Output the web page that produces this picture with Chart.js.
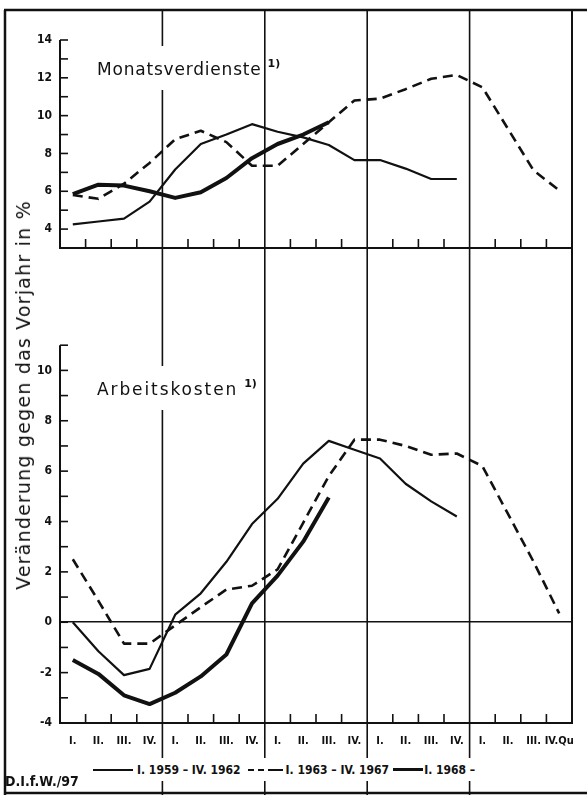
<!DOCTYPE html>
<html lang="de">
<head>
<meta charset="utf-8">
<title>Monatsverdienste und Arbeitskosten</title>
<script src="https://cdn.jsdelivr.net/npm/chart.js@4.4.1/dist/chart.umd.min.js"></script>
<style>
  html, body { margin: 0; padding: 0; background: #fff; }
  #fig { position: relative; width: 587px; height: 795px; overflow: hidden; background: #fff;
         font-family: 'DejaVu Sans', sans-serif; color: #111; }
  #fig canvas { position: absolute; left: 0; }
  #c-top { top: 0; }
  #c-bot { top: 330px; }
  .panel-title { position: absolute; font-size: 17px; line-height: 22px; white-space: nowrap; }
  .panel-title .w { display: inline-block; background: #fff; padding: 12px 2px 10px 3px; }
  .panel-title sup { font-size: 11px; font-weight: bold; line-height: 0; vertical-align: 8px; margin-left: 4px;
                     letter-spacing: 0; }
  #t-mv { left: 94px; top: 46px; letter-spacing: 0.8px; }
  #t-ak { left: 94px; top: 366px; letter-spacing: 1.9px; }
  #ytitle { position: absolute; left: 23px; top: 395px; font-size: 19px; letter-spacing: 1.2px;
            white-space: nowrap; transform: translate(-50%, -50%) rotate(-90deg); }
  #legend { position: absolute; left: 90px; top: 758px; height: 23px; padding: 0 3px; background: #fff;
            display: flex; align-items: center; font: bold 12px 'DejaVu Sans Condensed', 'DejaVu Sans', sans-serif;
            white-space: nowrap; }
  #legend .ln { display: inline-block; height: 0; border-top: 2px solid #111; width: 40px; margin-right: 4px; }
  #legend .ln.thick { border-top-width: 3.5px; width: 30px; margin-left: 4px; margin-right: 1px; }
  #legend .dash { display: inline-flex; align-items: center; margin: 0 3px 0 7px; }
  #legend .dash i { display: inline-block; width: 6px; border-top: 2.5px solid #111; margin-right: 4px; }
  #legend .dash b { display: inline-block; width: 15px; border-top: 2.5px solid #111; }
  #note { position: absolute; left: 5px; top: 773px; font: bold 14px 'DejaVu Sans Condensed', 'DejaVu Sans', sans-serif; }
</style>
</head>
<body>
<div id="fig">
  <canvas id="c-top" width="587" height="330"></canvas>
  <canvas id="c-bot" width="587" height="465"></canvas>
  <div class="panel-title" id="t-mv"><span class="w">Monatsverdienste</span><sup>1)</sup></div>
  <div class="panel-title" id="t-ak"><span class="w">Arbeitskosten</span><sup>1)</sup></div>
  <div id="ytitle">Veränderung gegen das Vorjahr in %</div>
  <div id="legend">
    <span class="ln"></span><span>I. 1959 – IV. 1962</span>
    <span class="dash"><i></i><i></i><b></b></span><span>I. 1963 – IV. 1967</span>
    <span class="ln thick"></span><span>I. 1968 –</span>
  </div>
  <div id="note">D.I.f.W./97</div>
</div>
<script>
(function () {
  var INK = '#111';
  var TICK_FONT = { family: "'DejaVu Sans Condensed', 'DejaVu Sans', sans-serif", size: 12, weight: 'bold' };
  var XTICK_FONT = { family: "'DejaVu Sans Condensed', 'DejaVu Sans', sans-serif", size: 11, weight: 'bold' };

  // quarters on the x axis (5 years)
  var QUARTER_LABELS = [
    'I.', 'II.', 'III.', 'IV.', 'I.', 'II.', 'III.', 'IV.', 'I.', 'II.', 'III.', 'IV.',
    'I.', 'II.', 'III.', 'IV.', 'I.', 'II.', 'III.', 'IV.Qu'
  ];
  var SERIES_LABELS = ['I. 1959 – IV. 1962', 'I. 1963 – IV. 1967', 'I. 1968 –'];

  // Monatsverdienste, % gegen Vorjahr
  var MV_1959 = [4.25, 4.4, 4.55, 5.45, 7.15, 8.5, 9.0, 9.55, 9.15, 8.85, 8.45, 7.65, 7.65, 7.2, 6.65, 6.65];
  var MV_1963 = [5.8, 5.6, 6.4, 7.5, 8.75, 9.2, 8.6, 7.35, 7.35, 8.5, 9.65, 10.8, 10.9, 11.4, 11.95, 12.15,
                 11.5, 9.3, 7.1, 6.05];
  var MV_1968 = [5.85, 6.35, 6.3, 6.0, 5.65, 5.95, 6.7, 7.75, 8.5, 9.0, 9.65];

  // Arbeitskosten, % gegen Vorjahr
  var AK_1959 = [0, -1.15, -2.1, -1.85, 0.3, 1.15, 2.4, 3.9, 4.9, 6.3, 7.2, 6.85, 6.5, 5.5, 4.8, 4.2];
  var AK_1963 = [2.5, 0.85, -0.85, -0.85, -0.12, 0.6, 1.3, 1.45, 2.1, 3.95, 5.8, 7.25, 7.25, 7.0, 6.65, 6.7,
                 6.2, 4.3, 2.4, 0.35];
  var AK_1968 = [-1.5, -2.05, -2.9, -3.25, -2.8, -2.15, -1.28, 0.75, 1.85, 3.2, 4.95];

  function datasets(thin, dashed, thick) {
    return [
      { label: SERIES_LABELS[0], data: thin, borderColor: INK, borderWidth: 2.2 },
      { label: SERIES_LABELS[1], data: dashed, borderColor: INK, borderWidth: 2.6, borderDash: [10, 6] },
      { label: SERIES_LABELS[2], data: thick, borderColor: INK, borderWidth: 4 }
    ];
  }

  function seg(ctx, x1, y1, x2, y2) {
    ctx.beginPath();
    ctx.moveTo(x1, y1);
    ctx.lineTo(x2, y2);
    ctx.stroke();
  }

  /** frame, year lines, axis lines and inward ticks (drawn from the chart's scales) */
  function decor(isTop) {
    return {
      id: 'decor',
      beforeDatasetsDraw: function (chart) {
        var ctx = chart.ctx, a = chart.chartArea, ys = chart.scales.y;
        var W = chart.width, H = chart.height;
        var n = QUARTER_LABELS.length;
        var band = (a.right - a.left) / n;
        var y0 = isTop ? 10 : 0;
        var i, x, v, y;
        ctx.save();
        ctx.strokeStyle = INK;
        // outer frame
        ctx.lineWidth = 2.5;
        seg(ctx, 5, y0, 5, H);
        if (isTop) seg(ctx, 4, 10, W, 10);
        else seg(ctx, 4, H - 2, W, H - 2);
        ctx.lineWidth = 2;
        seg(ctx, a.right, y0, a.right, isTop ? H : a.bottom + 1);
        // year separators
        ctx.lineWidth = 1.6;
        for (i = 4; i < n; i += 4) {
          x = a.left + i * band;
          seg(ctx, x, y0, x, H);
        }
        // y axis + bottom axis
        ctx.lineWidth = 2;
        seg(ctx, a.left, a.top, a.left, a.bottom + 1);
        seg(ctx, a.left - 1, a.bottom, a.right, a.bottom);
        ctx.lineWidth = 1.6;
        for (v = ys.min + 1; v <= ys.max; v++) {
          y = ys.getPixelForValue(v);
          seg(ctx, a.left, y, a.left + 8, y);
        }
        for (i = 1; i < n; i++) {
          if (i % 4 === 0) continue;
          x = a.left + i * band;
          seg(ctx, x, a.bottom, x, a.bottom - 9);
        }
        ctx.restore();
      }
    };
  }

  function options(yMin, yMax, padding, isTop) {
    return {
      responsive: false,
      animation: false,
      layout: { padding: padding },
      elements: {
        point: { radius: 0, hoverRadius: 0 },
        line: { tension: 0, fill: false, borderJoinStyle: 'round', borderCapStyle: 'butt' }
      },
      plugins: { legend: { display: false }, tooltip: { enabled: false } },
      scales: {
        x: {
          type: 'category',
          offset: true,
          display: !isTop,
          grid: { display: false, drawTicks: false },
          border: { display: false },
          ticks: { color: INK, font: XTICK_FONT, padding: 12, autoSkip: false, maxRotation: 0, minRotation: 0 },
          afterFit: function (s) { s.height = 72; }
        },
        y: {
          min: yMin,
          max: yMax,
          grid: {
            display: !isTop,
            drawTicks: false,
            lineWidth: 1.6,
            color: function (c) { return c.tick && c.tick.value === 0 ? INK : 'rgba(0,0,0,0)'; }
          },
          border: { display: false },
          ticks: {
            stepSize: 1,
            color: INK,
            font: TICK_FONT,
            padding: 8,
            callback: function (v) { return v % 2 === 0 ? String(v) : ''; }
          },
          afterFit: function (s) { s.width = 60; }
        }
      }
    };
  }

  new Chart(document.getElementById('c-top'), {
    type: 'line',
    data: { labels: QUARTER_LABELS, datasets: datasets(MV_1959, MV_1963, MV_1968) },
    options: options(3, 14, { left: 0, right: 15, top: 40, bottom: 10 }, true),
    plugins: [decor(true)]
  });

  new Chart(document.getElementById('c-bot'), {
    type: 'line',
    data: { labels: QUARTER_LABELS, datasets: datasets(AK_1959, AK_1963, AK_1968) },
    options: options(-4, 11, { left: 0, right: 15, top: 9, bottom: 0 }, false),
    plugins: [decor(false)]
  });
})();
</script>
</body>
</html>
